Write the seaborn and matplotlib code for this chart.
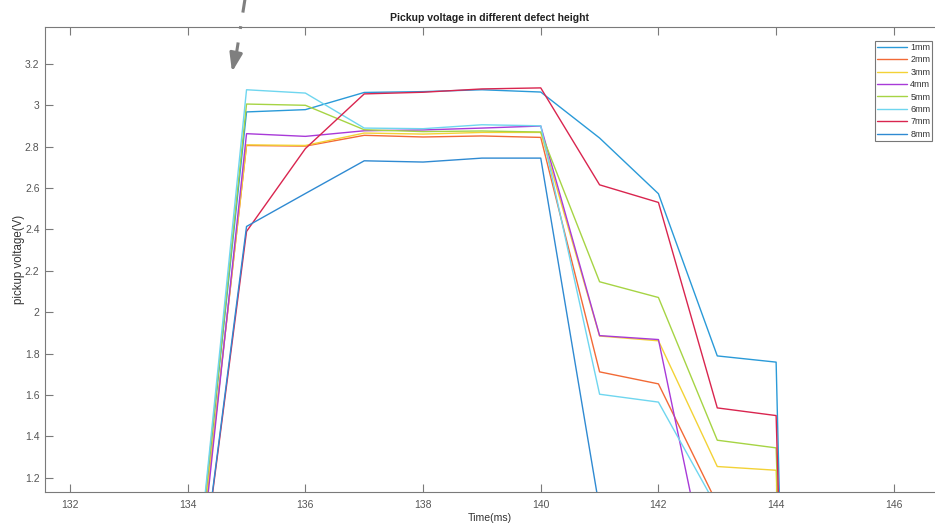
import numpy as np
import pandas as pd
import matplotlib
matplotlib.use("Agg")
import matplotlib.pyplot as plt
from matplotlib.lines import Line2D
from matplotlib.ticker import FuncFormatter
import seaborn as sns

# ---- data ----
time_ms = [134, 135, 136, 137, 138, 139, 140, 141, 142, 143, 144, 144.15]
labels = ["1mm", "2mm", "3mm", "4mm", "5mm", "6mm", "7mm", "8mm"]
v_1mm = [0.30, 2.967, 2.978, 3.061, 3.065, 3.074, 3.063, 2.841, 2.572, 1.789, 1.759, 0.0]
v_2mm = [0.30, 2.805, 2.802, 2.854, 2.846, 2.851, 2.844, 1.712, 1.654, 1.074, 0.0, 0.0]
v_3mm = [0.30, 2.808, 2.805, 2.865, 2.860, 2.868, 2.868, 1.885, 1.862, 1.255, 1.237, 0.0]
v_4mm = [0.20, 2.862, 2.849, 2.876, 2.880, 2.889, 2.899, 1.887, 1.868, 0.505, 0.0, 0.0]
v_5mm = [0.30, 3.005, 2.999, 2.881, 2.872, 2.875, 2.870, 2.147, 2.071, 1.382, 1.345, 0.0]
v_6mm = [0.30, 3.074, 3.058, 2.889, 2.886, 2.905, 2.900, 1.604, 1.566, 1.055, 0.0, 0.0]
v_7mm = [0.20, 2.390, 2.790, 3.054, 3.062, 3.078, 3.083, 2.615, 2.530, 1.538, 1.501, 0.0]
v_8mm = [0.20, 2.414, 2.573, 2.731, 2.725, 2.744, 2.744, 1.050, 0.0, 0.0, 0.0, 0.0]
series = [v_1mm, v_2mm, v_3mm, v_4mm, v_5mm, v_6mm, v_7mm, v_8mm]
colors = ["#2a9ad8", "#f26a36", "#f3d236", "#a83ad8", "#a6d444", "#6fd6ef", "#d9254f", "#2f8ad2"]
x_ticks = [132, 134, 136, 138, 140, 142, 144, 146]
y_ticks = [1.2, 1.4, 1.6, 1.8, 2.0, 2.2, 2.4, 2.6, 2.8, 3.0, 3.2]

df = pd.concat(
    [pd.DataFrame({"t": time_ms, "v": s, "label": lab}) for lab, s in zip(labels, series)],
    ignore_index=True,
)

sns.set_style("white")
plt.rcParams["font.family"] = ["Liberation Sans", "DejaVu Sans"]

W, H = 935, 524
fig = plt.figure(figsize=(W / 100, H / 100), dpi=100)
ax = fig.add_axes([45 / W, 32 / H, (W - 45) / W, (492 - 27) / H])

palette = dict(zip(labels, colors))
sns.lineplot(data=df, x="t", y="v", hue="label", hue_order=labels, palette=palette,
             estimator=None, sort=False, linewidth=1.0, ax=ax, legend=False)

ax.set_xlim(131.575, 146.70)
ax.set_ylim(1.132, 3.377)
ax.set_xticks(x_ticks)
ax.set_yticks(y_ticks)
ax.yaxis.set_major_formatter(FuncFormatter(lambda v, p: "%g" % round(v, 2)))

spine_c = "#7a7a7a"
for side in ["left", "bottom", "top"]:
    ax.spines[side].set_color(spine_c)
    ax.spines[side].set_linewidth(0.8)
ax.spines["right"].set_visible(False)
ax.tick_params(axis="x", which="both", direction="in", length=6, width=0.8, color=spine_c,
               top=True, bottom=True, labelsize=7.5, labelcolor="#555555", pad=6)
ax.tick_params(axis="y", which="both", direction="in", length=6, width=0.8, color=spine_c,
               left=True, right=False, labelsize=7.5, labelcolor="#555555", pad=4)

ax.set_xlabel("Time(ms)", fontsize=7.6, color="#333333", labelpad=2)
ax.set_ylabel("pickup voltage(V)", fontsize=8.3, color="#333333", labelpad=0)
ax.set_title("Pickup voltage in different defect height", fontsize=7.6, fontweight="bold",
             color="#222222", pad=4, x=(490 - 45) / (W - 45))

handles = [Line2D([0], [0], color=c, lw=1.0) for c in colors]
leg = ax.legend(handles, labels, loc="upper left", bbox_to_anchor=(875 / W, 1 - 41 / H),
                bbox_transform=fig.transFigure, frameon=True, fancybox=False,
                edgecolor="#555555", fontsize=6.5, handlelength=3.3, handletextpad=0.4,
                labelspacing=0.38, borderpad=0.2, borderaxespad=0)
leg.get_frame().set_linewidth(0.8)
for txt in leg.get_texts():
    txt.set_color("#333333")

# dashed grey arrow at top-left
gray = "#7f7f7f"
fig.add_artist(Line2D([245 / W, 236.5 / W], [1 + 1 / H, 1 - 53 / H], transform=fig.transFigure,
                      color=gray, lw=2.2, linestyle=(0, (4.5, 4.5, 0.9, 4.5))))
ax.annotate("", xy=(232 / W, 1 - 72 / H), xytext=(236 / W, 1 - 53 / H),
            xycoords="figure fraction", textcoords="figure fraction",
            arrowprops=dict(arrowstyle="-|>,head_length=1.1,head_width=0.38",
                            color=gray, lw=2.2, shrinkA=0, shrinkB=0))

fig.savefig("out.png", dpi=100)
